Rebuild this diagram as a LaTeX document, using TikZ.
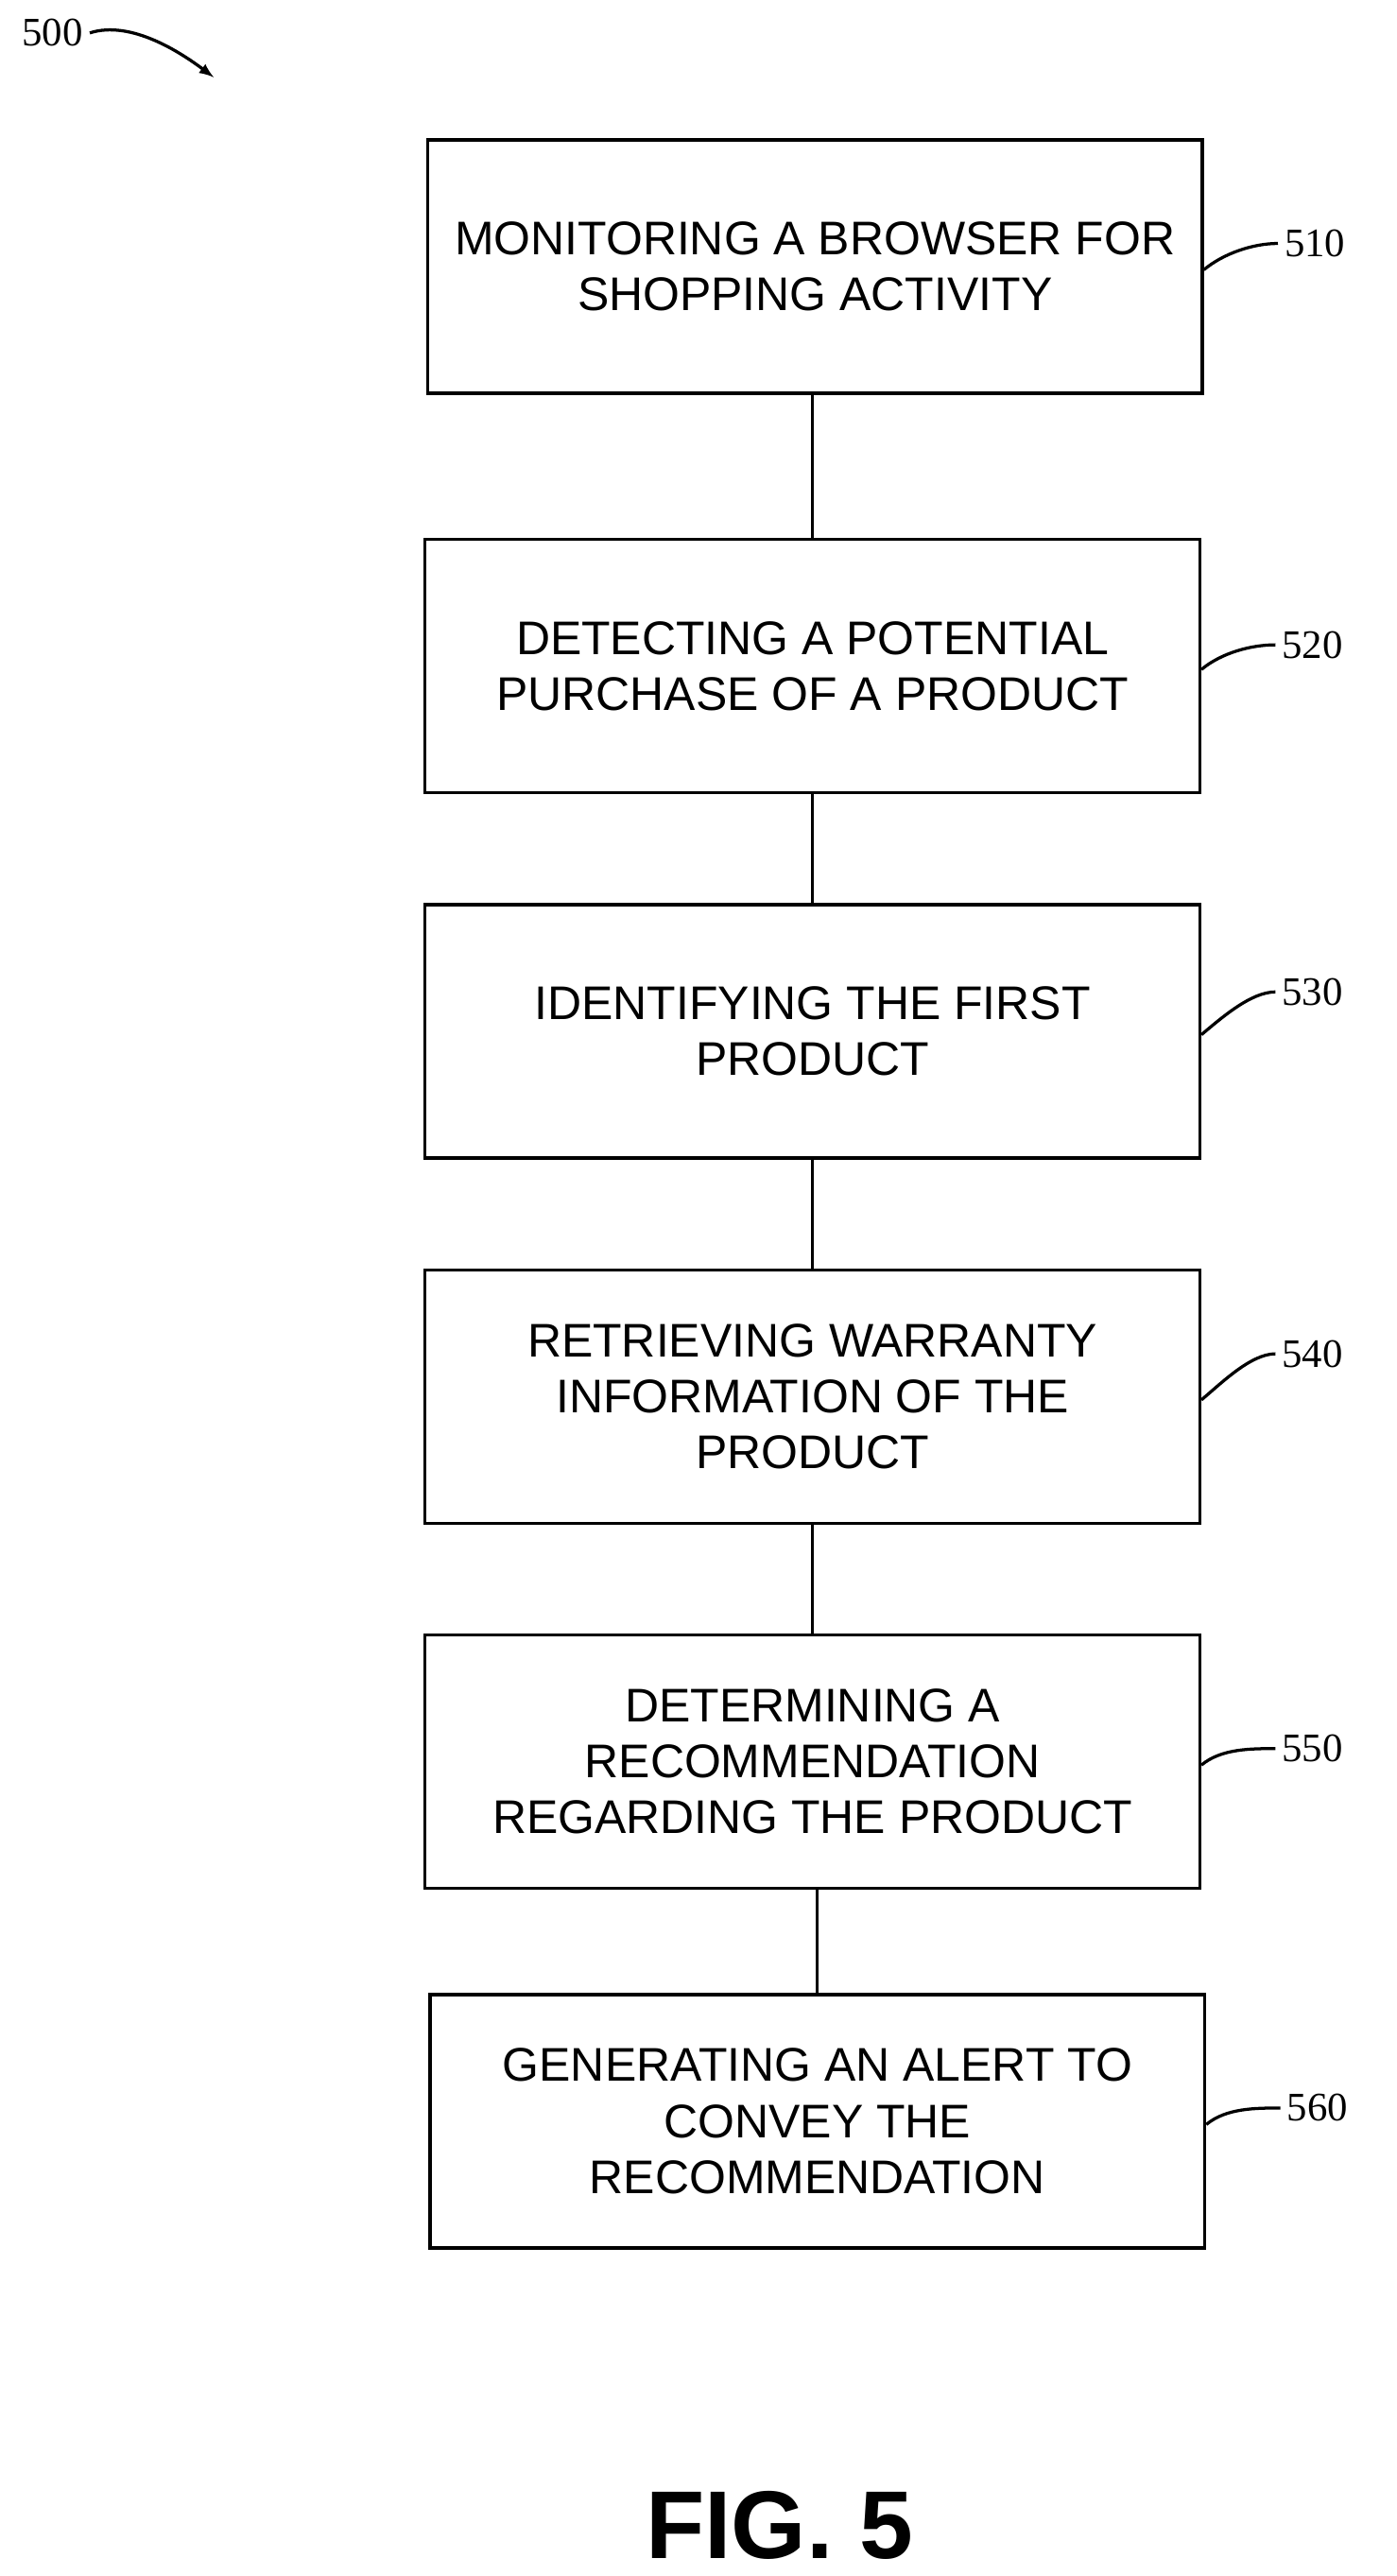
\documentclass[tikz,border=0pt]{standalone}
\usepackage{fontspec}
\setmainfont{Liberation Serif}
\newfontfamily\boxfont{Liberation Sans}
\usetikzlibrary{positioning}
\tikzset{
  stepbox/.style={draw, line width=1.6pt, minimum width=14.13cm, minimum height=4.62cm,
    align=center, font=\boxfont\fontsize{24.5}{29}\selectfont, inner sep=0pt},
  refnum/.style={font=\fontsize{21}{24}\selectfont, anchor=west},
  leader/.style={line width=1.6pt}
}
\begin{document}
\begin{tikzpicture}[x=0.03cm,y=-0.03cm]
    \useasboundingbox (0,0) rectangle (849,1566);
    % steps
    \node[stepbox] (s510) at (495.5,162) {MONITORING A BROWSER FOR\\SHOPPING ACTIVITY};
    \node[stepbox] (s520) at (494,405) {DETECTING A POTENTIAL\\PURCHASE OF A PRODUCT};
    \node[stepbox] (s530) at (494,627) {IDENTIFYING THE FIRST\\PRODUCT};
    \node[stepbox] (s540) at (494,849) {RETRIEVING WARRANTY\\INFORMATION OF THE\\PRODUCT};
    \node[stepbox] (s550) at (494,1071) {DETERMINING A\\RECOMMENDATION\\REGARDING THE PRODUCT};
    \node[stepbox] (s560) at (497,1289.5) {GENERATING AN ALERT TO\\CONVEY THE\\RECOMMENDATION};
    \foreach \a/\b in {s510/s520,s520/s530,s530/s540,s540/s550,s550/s560}
        \draw[leader] (\b.north) -- (\b.north |- \a.south);
    % reference numerals
    \foreach \s/\n/\dy in {s510/510/-14,s520/520/-13,s530/530/-24,s540/540/-26,s550/550/-8,s560/560/-8} {
        \node[refnum] (l\n) at ([xshift=45*0.03cm,yshift=-\dy*0.03cm]\s.east) {\n};
        \draw[leader] ([yshift=-2*0.03cm]\s.east) .. controls +(12,-10) and +(-15,0) .. (l\n.west);
    }
    % figure number
    \node[font=\fontsize{21}{24}\selectfont] (l500) at (32,20) {500};
    \coordinate (a500) at (130,47);
    \draw[leader,-latex] (l500.east) .. controls +(25,-8) and +(-20,-15) .. (a500);
    \node[font=\boxfont\bfseries\fontsize{50}{60}\selectfont] (fig) at (474,1535) {FIG. 5};
\end{tikzpicture}
\end{document}
